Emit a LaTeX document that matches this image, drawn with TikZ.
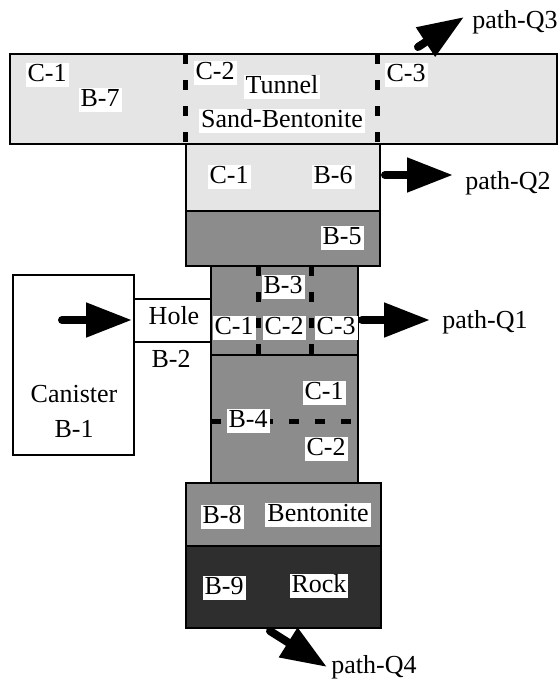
\documentclass[tikz,border=0pt]{standalone}
\usepackage{fontspec}
\setmainfont{Liberation Serif}
\usetikzlibrary{positioning,arrows.meta}

\definecolor{sandfill}{gray}{0.90}
\definecolor{clayfill}{gray}{0.55}
\definecolor{rockfill}{gray}{0.18}

\begin{document}
\begin{tikzpicture}[x=0.5pt,y=-0.5pt,
                    every node/.style={font=\fontsize{13}{15}\selectfont},
                    zone/.style={draw,line width=1pt},
                    tag/.style={fill=white,inner xsep=1pt,inner ysep=1.5pt,
                                text height=0.8em,text depth=0.12em},
                    cut/.style={line width=2.5pt,dash pattern=on 5pt off 8pt},
                    flow/.style={line width=4pt,line cap=round,
                                 -{Triangle[length=23pt,width=16.5pt]}}]
  \useasboundingbox (0,0) rectangle (559,679);

  % tunnel and the column below it
  \path[zone,fill=sandfill] (10,54)   rectangle (557,144);
  \path[zone,fill=sandfill] (186,144) rectangle (380,211);
  \path[zone,fill=clayfill] (186,211) rectangle (380,266);
  \path[zone,fill=clayfill] (211,266) rectangle (358,355);
  \path[zone,fill=clayfill] (211,355) rectangle (358,483);
  \path[zone,fill=clayfill] (186,483) rectangle (381,546);
  \path[zone,fill=rockfill] (186,546) rectangle (381,628);

  % canister and hole
  \path[zone,fill=white] (13,275)  rectangle (134,455);
  \path[zone,fill=white] (134,299) rectangle (211,342);

  % cell borders
  \draw[cut] (185,54)  -- (185,144);
  \draw[cut] (377,54)  -- (377,144);
  \draw[cut] (258,266) -- (258,355);
  \draw[cut] (311,266) -- (311,355);
  \draw[cut] (211,421) -- (358,421);

  % tunnel labels
  \node[tag] (b7c1)   at (47,75)   {C-1};
  \node[tag] (b7)     at (100,100) {B-7};
  \node[tag] (b7c2)   at (215,73)  {C-2};
  \node[tag] (tunnel) at (282,87)  {Tunnel};
  \node[tag] (sandb)  at (282,121) {Sand-Bentonite};
  \node[tag] (b7c3)   at (406,75)  {C-3};

  \node[tag] (b6c1) at (229,177) {C-1};
  \node[tag] (b6)   at (333,177) {B-6};
  \node[tag] (b5)   at (342,238) {B-5};

  \node[tag] (b3)   at (283,287) {B-3};
  \node[tag] (b3c1) at (234,328) {C-1};
  \node[tag] (b3c2) at (284,328) {C-2};
  \node[tag] (b3c3) at (336,328) {C-3};

  \node[tag] (b4c1) at (324,393) {C-1};
  \node[tag] (b4)   at (248,421) {B-4};
  \node[tag] (b4c2) at (326,449) {C-2};

  \node[tag] (b8)    at (222,517) {B-8};
  \node[tag] (bento) at (318,515) {Bentonite};
  \node[tag] (b9)    at (224,588) {B-9};
  \node[tag] (rock)  at (319,586) {Rock};

  \node (hole) at (174,316) {Hole};
  \node (b2)   at (171,359) {B-2};
  \node[align=center,font=\fontsize{13}{17.5}\selectfont] (canister) at (74,411)
       {Canister\\B-1};

  % flow paths
  \coordinate (q0tail) at (62,320);  \coordinate (q0tip) at (132,320);
  \coordinate (q1tail) at (362,320); \coordinate (q1tip) at (430,320);
  \coordinate (q2tail) at (385,175); \coordinate (q2tip) at (453,175);
  \coordinate (q3tail) at (418,47);  \coordinate (q3tip) at (464,17);
  \coordinate (q4tail) at (270,631); \coordinate (q4tip) at (327,667);

  \draw[flow] (q0tail) -- (q0tip);
  \draw[flow] (q1tail) -- (q1tip);
  \draw[flow] (q2tail) -- (q2tip);
  \draw[flow] (q3tail) -- (q3tip);
  \draw[flow] (q4tail) -- (q4tip);

  \node[anchor=west,inner sep=0pt] (q1) at (442,322) {path-Q1};
  \node[anchor=west,inner sep=0pt] (q2) at (465,183) {path-Q2};
  \node[anchor=west,inner sep=0pt] (q3) at (472,22)  {path-Q3};
  \node[anchor=west,inner sep=0pt] (q4) at (331,667) {path-Q4};
\end{tikzpicture}
\end{document}
